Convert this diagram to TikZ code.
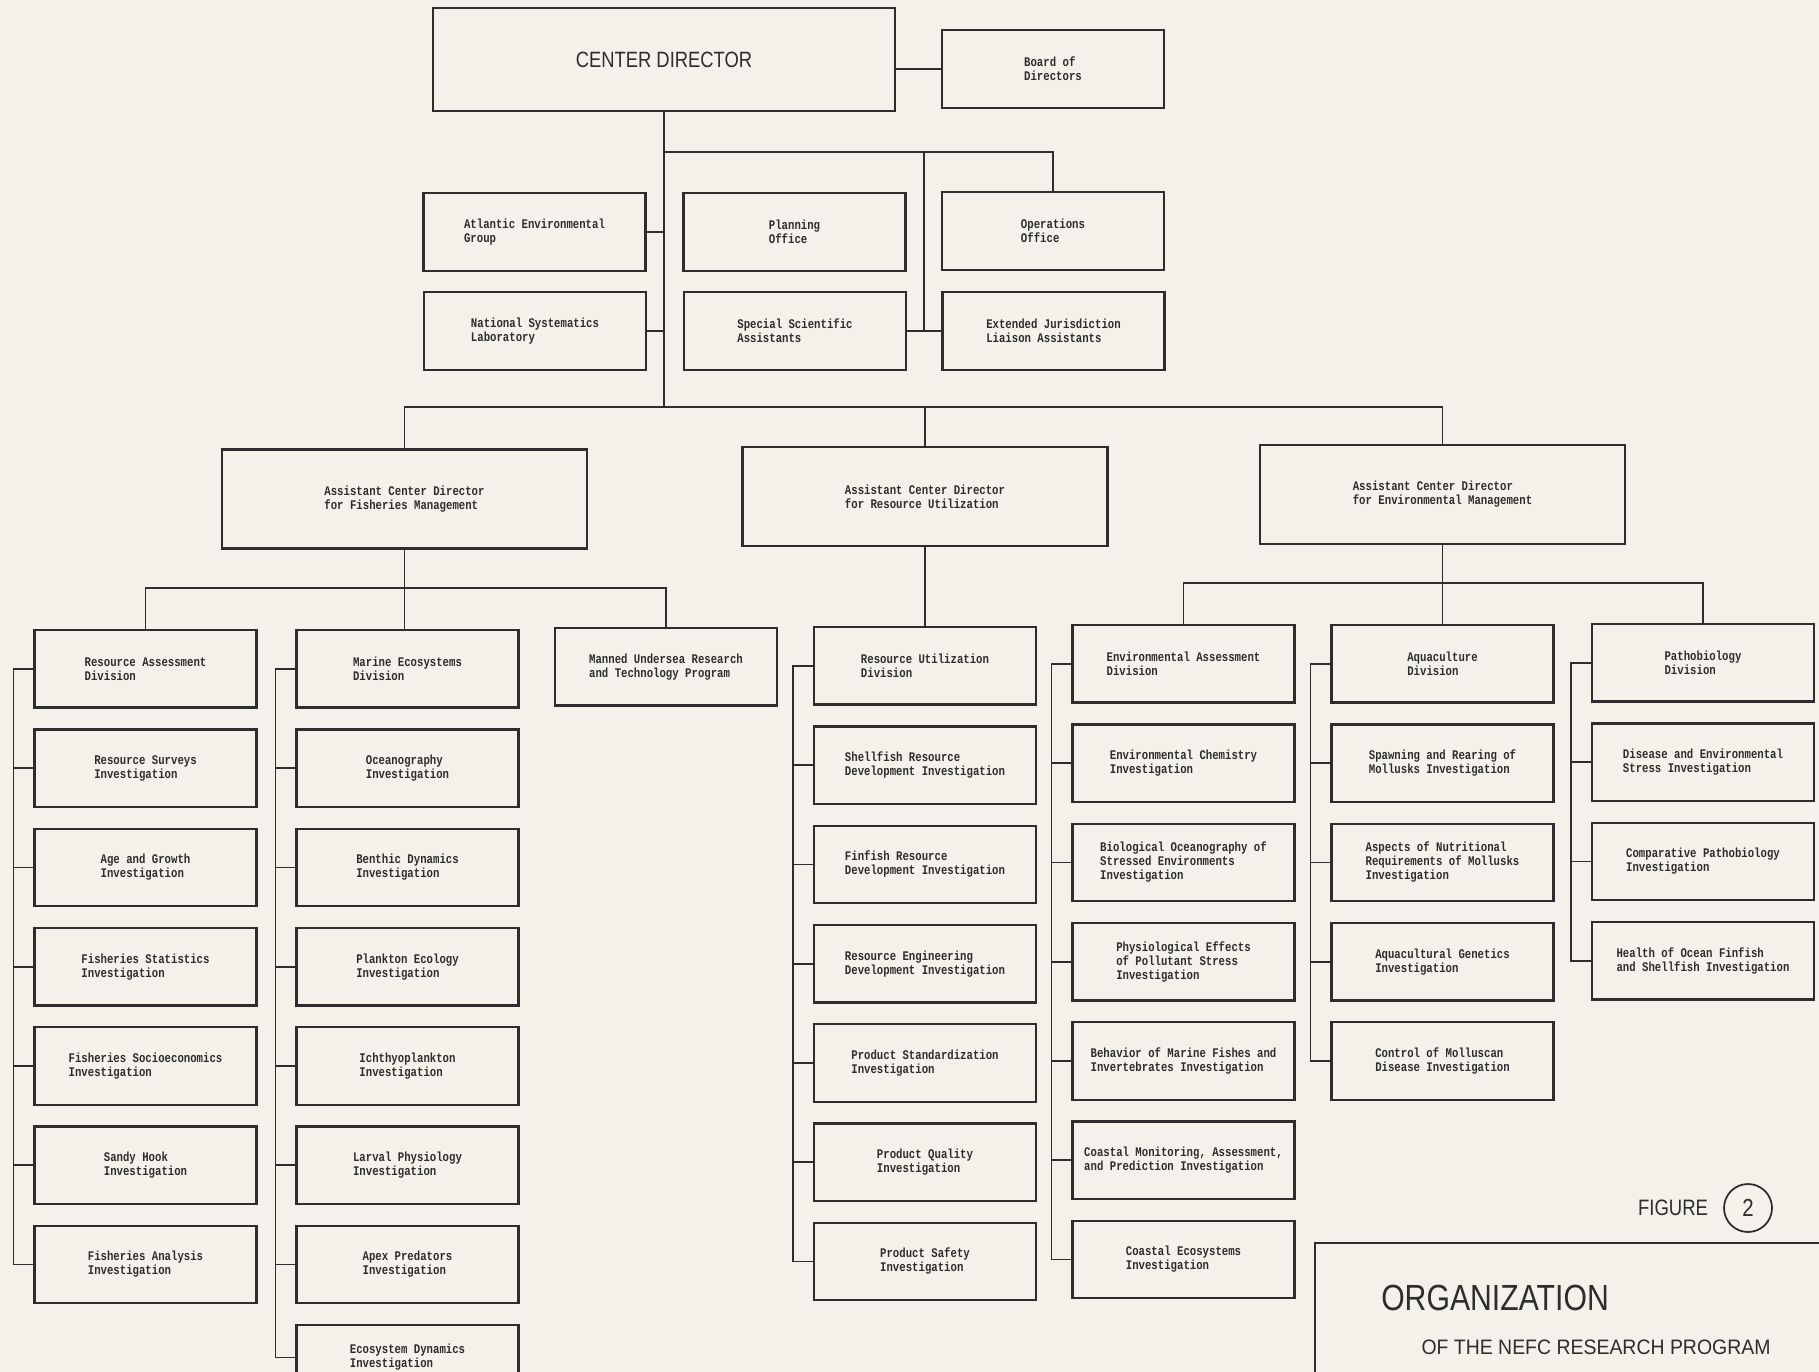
\documentclass[tikz,border=0pt]{standalone}
\usepackage{fontspec}
\usetikzlibrary{positioning}
\newfontfamily\boxfont[FakeStretch=0.81]{Liberation Mono}
\newfontfamily\headfont[FakeStretch=0.83]{Liberation Sans}
\newfontfamily\subfont[FakeStretch=0.93]{Liberation Sans}
\definecolor{paper}{RGB}{243,241,233}
\definecolor{ink}{RGB}{45,45,45}

\tikzset{
  unit/.style={draw=ink, line width=1.3pt, rectangle, minimum width=4.44cm, minimum height=1.55cm,
    align=left, text=ink, inner sep=2pt, font=\boxfont\bfseries\fontsize{7.5}{8}\selectfont},
  acd/.style={unit, minimum width=7.3cm, minimum height=1.98cm},
  chief/.style={unit, minimum width=9.24cm, minimum height=2.06cm, font=\headfont\fontsize{12.6}{14}\selectfont},
  link/.style={draw=ink, line width=1pt},
}

\begin{document}
\begin{tikzpicture}[x=0.02cm, y=-0.02cm, node distance=0.39cm]

	\useasboundingbox (0,0) rectangle (1819,1372);
	\fill[paper] (0,0) rectangle (1819,1372);
	\clip (0,0) rectangle (1819,1372);

	% director and staff
	\node[chief] (cd) at (664,59.5) {CENTER DIRECTOR};
	\node[unit] (board) at (1053,69) {Board of\\Directors};

	\node[unit] (aeg) at (534.5,232) {Atlantic Environmental\\Group};
	\node[unit] (plan) at (794.5,232) {Planning\\Office};
	\node[unit] (ops) at (1053,231) {Operations\\Office};
	\node[unit] (nsl) at (535,331) {National Systematics\\Laboratory};
	\node[unit] (ssa) at (795,331) {Special Scientific\\Assistants};
	\node[unit] (ejla) at (1053.5,331) {Extended Jurisdiction\\Liaison Assistants};

	% assistant directors
	\node[acd] (fish) at (404.5,499) {Assistant Center Director\\for Fisheries Management};
	\node[acd] (ru) at (925,496.5) {Assistant Center Director\\for Resource Utilization};
	\node[acd] (em) at (1442.5,494.5) {Assistant Center Director\\for Environmental Management};

	% fisheries management
	\node[unit, anchor=north] (ra) at (145.5,629) {Resource Assessment\\Division};
	\node[unit, below=of ra] (rs) {Resource Surveys\\Investigation};
	\node[unit, below=of rs] (ag) {Age and Growth\\Investigation};
	\node[unit, below=of ag] (fst) {Fisheries Statistics\\Investigation};
	\node[unit, below=of fst] (fse) {Fisheries Socioeconomics\\Investigation};
	\node[unit, below=of fse] (sh) {Sandy Hook\\Investigation};
	\node[unit, below=of sh] (fa) {Fisheries Analysis\\Investigation};

	\node[unit, anchor=north] (me) at (407.5,629) {Marine Ecosystems\\Division};
	\node[unit, below=of me] (oc) {Oceanography\\Investigation};
	\node[unit, below=of oc] (bd) {Benthic Dynamics\\Investigation};
	\node[unit, below=of bd] (pe) {Plankton Ecology\\Investigation};
	\node[unit, below=of pe] (ich) {Ichthyoplankton\\Investigation};
	\node[unit, below=of ich] (lp) {Larval Physiology\\Investigation};
	\node[unit, below=of lp] (ap) {Apex Predators\\Investigation};
	\node[unit, below=of ap, minimum height=1.3cm] (ed) {Ecosystem Dynamics\\Investigation};

	\node[unit, anchor=north] (mu) at (666,627) {Manned Undersea Research\\and Technology Program};

	% resource utilization
	\node[unit, anchor=north] (rud) at (925,626) {Resource Utilization\\Division};
	\node[unit, below=of rud] (sr) {Shellfish Resource\\Development Investigation};
	\node[unit, below=of sr] (fr) {Finfish Resource\\Development Investigation};
	\node[unit, below=of fr] (re) {Resource Engineering\\Development Investigation};
	\node[unit, below=of re] (ps) {Product Standardization\\Investigation};
	\node[unit, below=of ps] (pq) {Product Quality\\Investigation};
	\node[unit, below=of pq] (psa) {Product Safety\\Investigation};

	% environmental management
	\node[unit, anchor=north] (ead) at (1183.5,624) {Environmental Assessment\\Division};
	\node[unit, below=of ead] (ec) {Environmental Chemistry\\Investigation};
	\node[unit, below=of ec] (bo) {Biological Oceanography of\\Stressed Environments\\Investigation};
	\node[unit, below=of bo] (pef) {Physiological Effects\\of Pollutant Stress\\Investigation};
	\node[unit, below=of pef] (bm) {Behavior of Marine Fishes and\\Invertebrates Investigation};
	\node[unit, below=of bm] (cm) {Coastal Monitoring, Assessment,\\and Prediction Investigation};
	\node[unit, below=of cm] (ce) {Coastal Ecosystems\\Investigation};

	\node[unit, anchor=north] (aqd) at (1442.5,624) {Aquaculture\\Division};
	\node[unit, below=of aqd] (sp) {Spawning and Rearing of\\Mollusks Investigation};
	\node[unit, below=of sp] (an) {Aspects of Nutritional\\Requirements of Mollusks\\Investigation};
	\node[unit, below=of an] (gen) {Aquacultural Genetics\\Investigation};
	\node[unit, below=of gen] (cmd) {Control of Molluscan\\Disease Investigation};

	\node[unit, anchor=north] (pad) at (1703,623) {Pathobiology\\Division};
	\node[unit, below=of pad] (de) {Disease and Environmental\\Stress Investigation};
	\node[unit, below=of de] (cp) {Comparative Pathobiology\\Investigation};
	\node[unit, below=of cp] (hof) {Health of Ocean Finfish\\and Shellfish Investigation};

	% title block
	\node[text=ink, font=\headfont\fontsize{12.7}{14}\selectfont] (fig) at (1673,1208) {FIGURE};
	\node[circle, draw=ink, line width=1pt, minimum size=0.96cm, inner sep=0pt, text=ink,
		font=\headfont\fontsize{14}{16}\selectfont] (fignum) at (1748,1208) {2};
	\node[draw=ink, line width=1.3pt, anchor=north west, minimum width=11cm, minimum height=4cm] (org) at (1314,1242) {};
	\node[text=ink, font=\headfont\fontsize{20.7}{24}\selectfont] (orgtitle) at (1495,1298) {ORGANIZATION};
	\node[text=ink, font=\subfont\fontsize{11.9}{14}\selectfont] (orgsub) at (1596,1347) {OF THE NEFC RESEARCH PROGRAM};

	% upper links
	\coordinate (bar0) at (664,152);
	\coordinate (bar1) at (664,407);
	\coordinate (mid) at (924,152);
	\draw[link] (board.west) -- (board.west -| cd.east);
	\draw[link] (cd.south) -- (bar1);
	\draw[link] (bar0) -| (ops.north);
	\draw[link] (mid) -- (mid |- ejla.west);
	\draw[link] (ssa.east) -- (ejla.west);
	\draw[link] (aeg.east) -- (aeg.east -| bar0);
	\draw[link] (nsl.east) -- (nsl.east -| bar0);
	\draw[link] (fish.north) |- (bar1) -| (em.north);
	\draw[link] (ru.north) -- (ru.north |- bar1);

	% lower links
	\draw[link] (fish.south) -- ++(0,38) coordinate (fb);
	\draw[link] (ra.north) |- (fb) -| (mu.north);
	\draw[link] (fb) -- (fb |- me.north);
	\draw[link] (ru.south) -- (ru.south |- rud.north);
	\draw[link] (em.south) -- ++(0,38) coordinate (eb);
	\draw[link] (ead.north) |- (eb) -| (pad.north);
	\draw[link] (eb) -- (eb |- aqd.north);

	% brackets
	\draw[link] (ra.west) -- ++(-20,0) |- (fa.west);
	\draw[link] (rs.west) -- ++(-20,0) (ag.west) -- ++(-20,0) (fst.west) -- ++(-20,0)
		(fse.west) -- ++(-20,0) (sh.west) -- ++(-20,0);
	\draw[link] (me.west) -- ++(-20,0) |- (ed.west);
	\draw[link] (oc.west) -- ++(-20,0) (bd.west) -- ++(-20,0) (pe.west) -- ++(-20,0)
		(ich.west) -- ++(-20,0) (lp.west) -- ++(-20,0) (ap.west) -- ++(-20,0);
	\draw[link] (rud.west) -- ++(-20,0) |- (psa.west);
	\draw[link] (sr.west) -- ++(-20,0) (fr.west) -- ++(-20,0) (re.west) -- ++(-20,0)
		(ps.west) -- ++(-20,0) (pq.west) -- ++(-20,0);
	\draw[link] (ead.west) -- ++(-20,0) |- (ce.west);
	\draw[link] (ec.west) -- ++(-20,0) (bo.west) -- ++(-20,0) (pef.west) -- ++(-20,0)
		(bm.west) -- ++(-20,0) (cm.west) -- ++(-20,0);
	\draw[link] (aqd.west) -- ++(-20,0) |- (cmd.west);
	\draw[link] (sp.west) -- ++(-20,0) (an.west) -- ++(-20,0) (gen.west) -- ++(-20,0);
	\draw[link] (pad.west) -- ++(-20,0) |- (hof.west);
	\draw[link] (de.west) -- ++(-20,0) (cp.west) -- ++(-20,0);

\end{tikzpicture}
\end{document}
